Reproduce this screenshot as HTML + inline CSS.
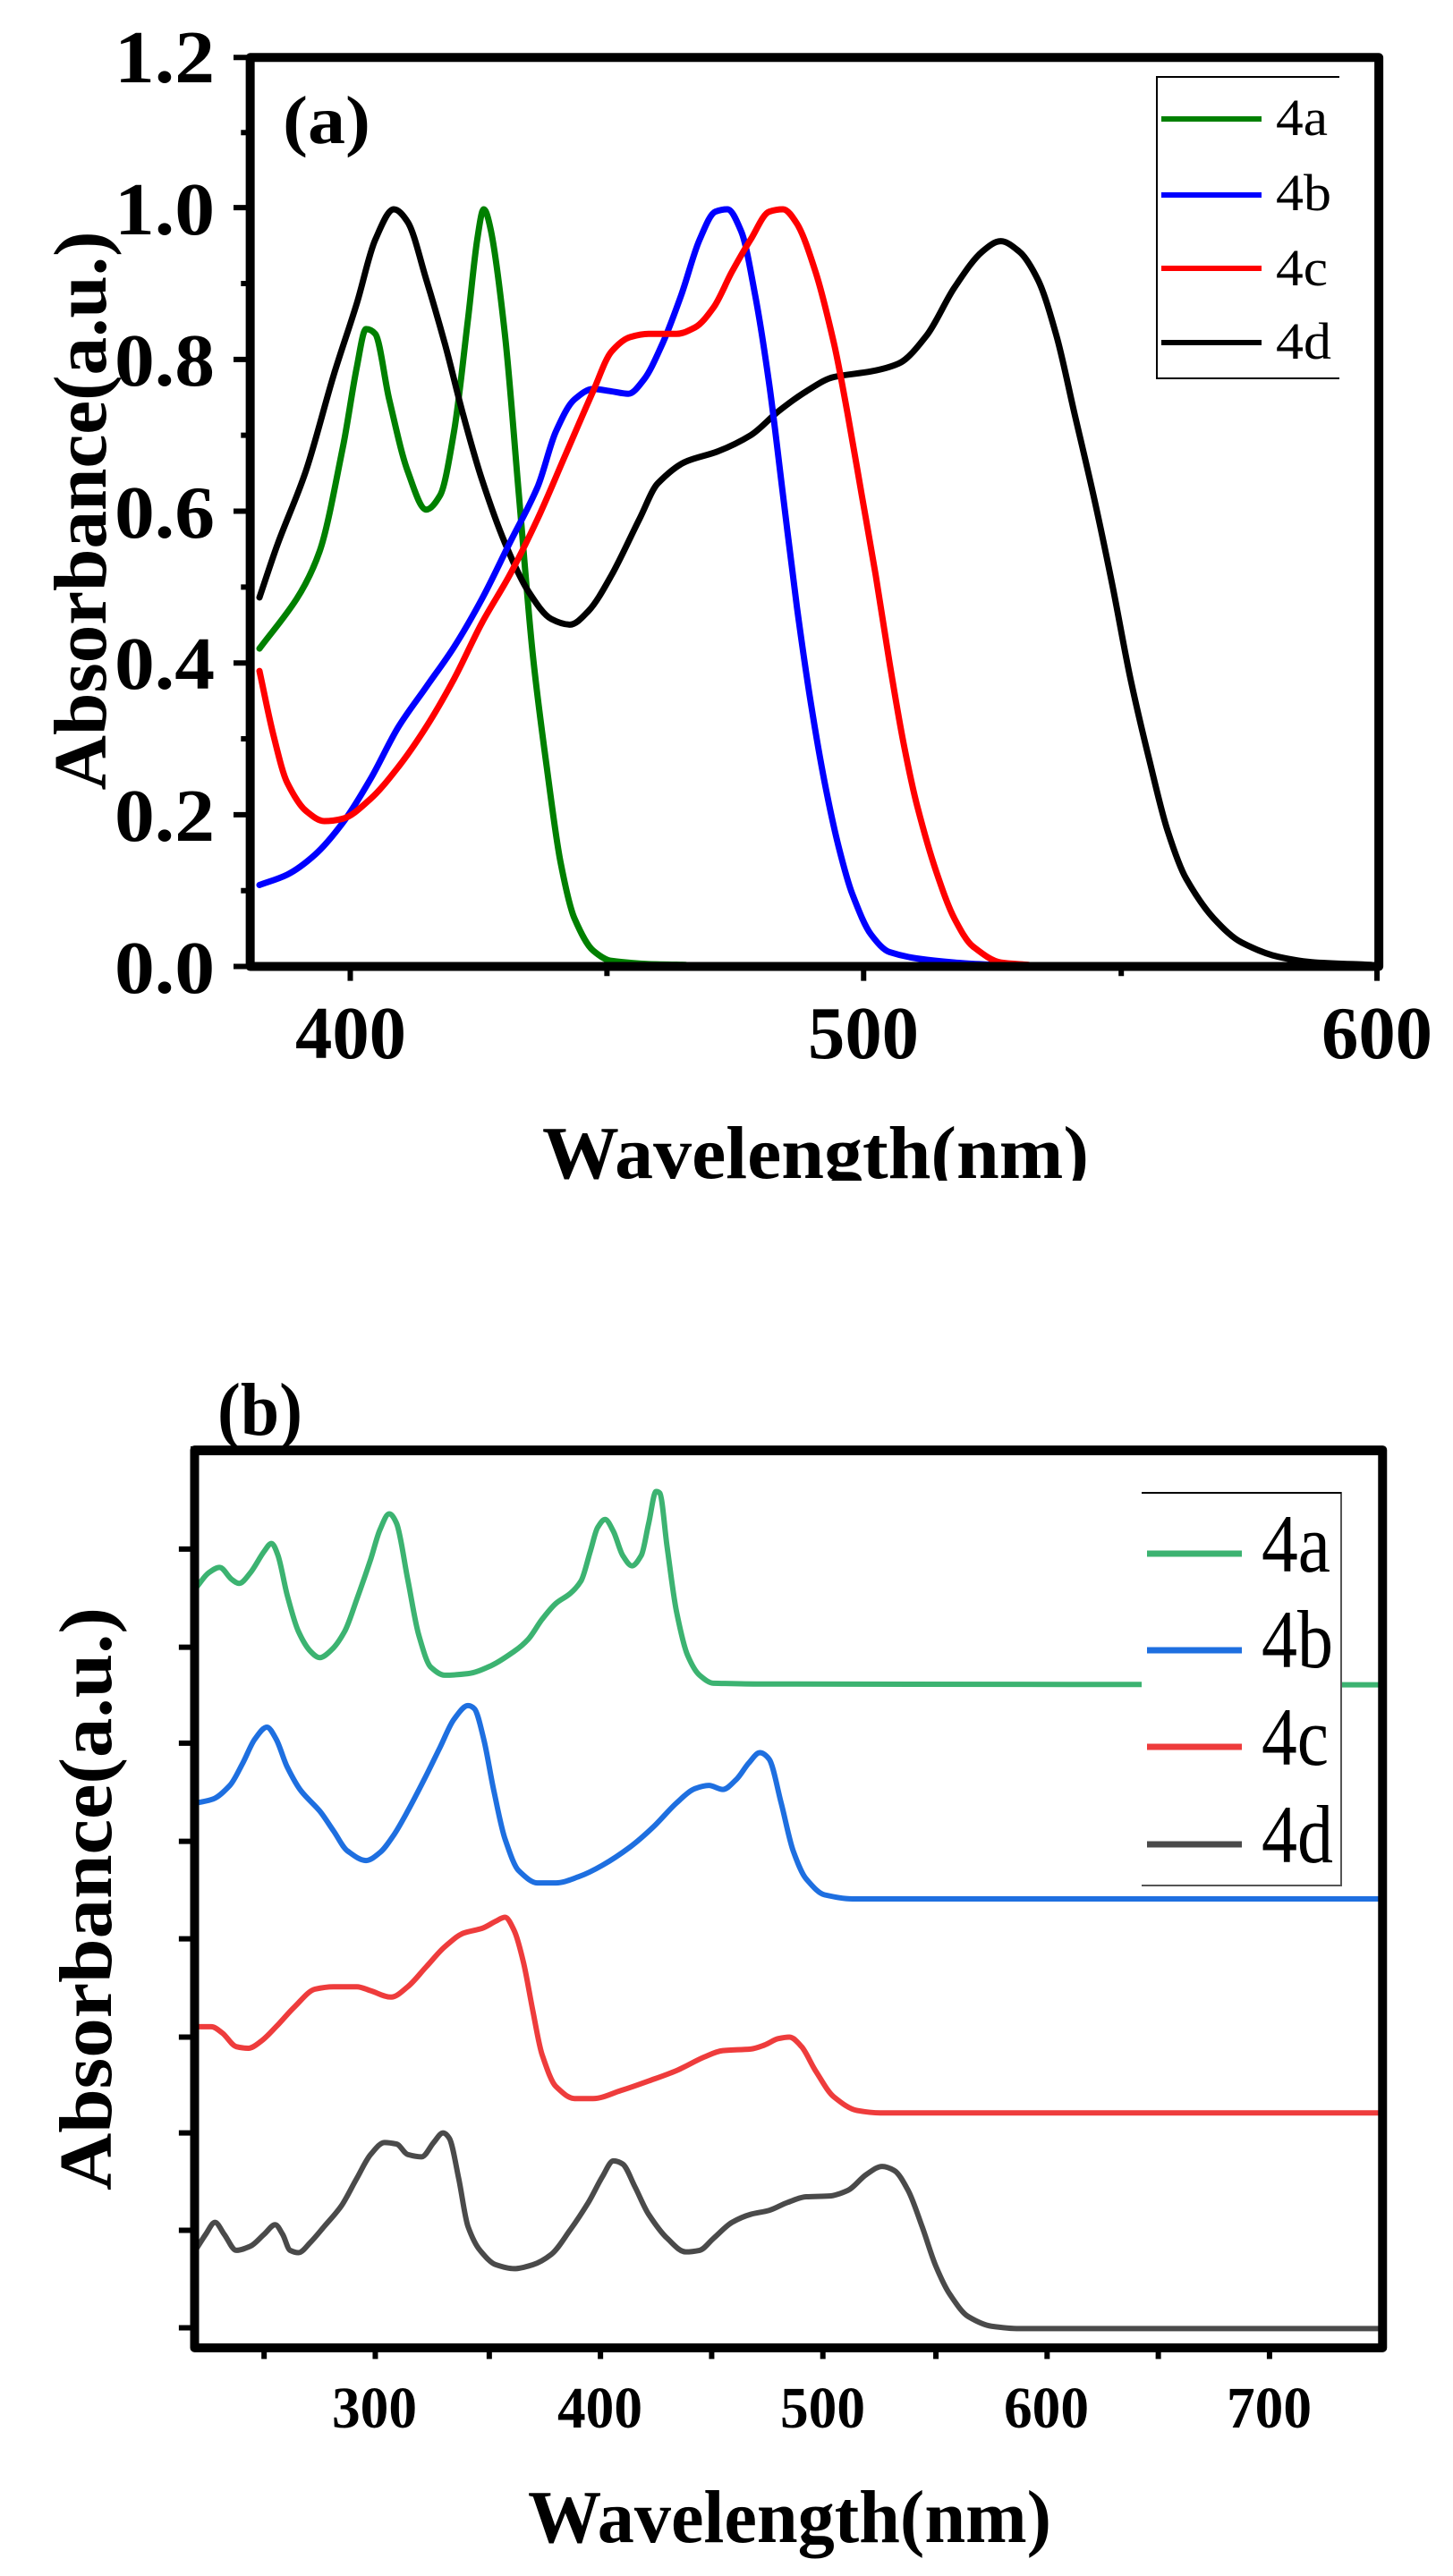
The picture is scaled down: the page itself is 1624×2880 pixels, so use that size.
<!DOCTYPE html>
<html><head><meta charset="utf-8"><style>
html,body{margin:0;padding:0;background:#fff;}
svg{display:block;}
text{font-family:"Liberation Serif","Times New Roman",serif;}
.b{font-weight:bold;}
</style></head><body>
<svg width="1624" height="2880" viewBox="0 0 1624 2880" xmlns="http://www.w3.org/2000/svg" font-family="Liberation Serif, serif">
<rect width="1624" height="2880" fill="#fff"/>
<defs><clipPath id="ca"><rect x="0" y="0" width="1624" height="1320"/></clipPath></defs>

<g transform="scale(1.0357,0.893)" fill="none" stroke-linejoin="round" stroke-linecap="round">
 <polyline class="sm" vector-effect="non-scaling-stroke" stroke="#008000" stroke-width="7" points="280,812 320,750 345,690 370,560 385,460 395,412 405,418 420,500 440,590 460,638 475,620 490,540 505,400 515,300 522,262 530,290 545,420 560,620 575,820 590,960 605,1080 620,1150 640,1190 660,1203 700,1207 740,1208"/>
 <polyline class="sm" vector-effect="non-scaling-stroke" stroke="#000" stroke-width="7" points="280,748 300,680 330,590 360,470 385,380 405,300 425,262 440,278 460,350 480,430 500,520 520,600 545,680 570,740 595,775 615,782 635,765 660,720 690,650 710,605 740,578 775,565 810,545 840,515 870,490 900,472 940,465 970,455 1000,420 1030,360 1060,315 1080,302 1100,315 1120,350 1140,420 1160,520 1180,620 1200,730 1220,850 1240,950 1260,1040 1280,1100 1310,1150 1340,1180 1380,1198 1420,1205 1480,1208"/>
 <polyline class="sm" vector-effect="non-scaling-stroke" stroke="#0000ff" stroke-width="7" points="280,1108 310,1095 340,1070 370,1030 400,975 430,910 460,860 490,810 520,750 550,680 580,610 600,540 620,500 640,487 660,490 678,493 695,475 715,430 735,370 755,300 772,265 785,262 800,290 815,370 830,480 845,620 860,760 875,880 890,980 905,1060 920,1120 940,1170 960,1192 990,1200 1030,1205 1070,1208"/>
 <polyline class="sm" vector-effect="non-scaling-stroke" stroke="#ff0000" stroke-width="7" points="280,840 295,920 310,980 330,1015 350,1028 370,1025 400,1000 430,960 460,910 490,850 520,780 550,720 580,650 610,570 640,490 660,440 680,422 700,418 730,418 750,410 770,385 790,340 810,300 830,265 845,262 860,280 880,340 900,430 915,520 930,620 945,720 960,830 975,930 990,1010 1010,1090 1030,1150 1050,1185 1080,1205 1110,1208"/>
 <g stroke="#000" stroke-linecap="butt">
  <rect vector-effect="non-scaling-stroke" stroke-width="10" x="270" y="72" width="1218" height="1138"/>
  <path vector-effect="non-scaling-stroke" stroke-width="6" d="M252,72H270M252,260H270M252,450H270M252,640H270M252,830H270M252,1020H270M252,1210H270 M260,166H270M260,355H270M260,545H270M260,735H270M260,925H270M260,1115H270 M378,1210V1228M932,1210V1228M1486,1210V1228M655,1210V1222M1210,1210V1222"/>
 </g>
</g>
<path d="M1497,86H1293V423H1497" fill="#fff" stroke="#000" stroke-width="2"/>
<g stroke-width="6">
<line x1="1298" y1="133" x2="1410" y2="133" stroke="#008000"/>
<line x1="1298" y1="218" x2="1410" y2="218" stroke="#0000ff"/>
<line x1="1298" y1="300" x2="1410" y2="300" stroke="#ff0000"/>
<line x1="1298" y1="383" x2="1410" y2="383" stroke="#000"/>
</g>
<g font-size="58">
<text x="1426" y="151" textLength="58" lengthAdjust="spacingAndGlyphs">4a</text>
<text x="1426" y="235" textLength="62" lengthAdjust="spacingAndGlyphs">4b</text>
<text x="1426" y="319" textLength="58" lengthAdjust="spacingAndGlyphs">4c</text>
<text x="1426" y="401" textLength="62" lengthAdjust="spacingAndGlyphs">4d</text>
</g>
<g class="b" font-size="84" text-anchor="end">
<text x="240" y="92" textLength="112" lengthAdjust="spacingAndGlyphs">1.2</text><text x="240" y="262" textLength="112" lengthAdjust="spacingAndGlyphs">1.0</text><text x="240" y="431" textLength="112" lengthAdjust="spacingAndGlyphs">0.8</text><text x="240" y="601" textLength="112" lengthAdjust="spacingAndGlyphs">0.6</text><text x="240" y="770" textLength="112" lengthAdjust="spacingAndGlyphs">0.4</text><text x="240" y="940" textLength="112" lengthAdjust="spacingAndGlyphs">0.2</text><text x="240" y="1110" textLength="112" lengthAdjust="spacingAndGlyphs">0.0</text>
</g>
<g class="b" font-size="84">
<text x="330" y="1183" textLength="124" lengthAdjust="spacingAndGlyphs">400</text><text x="903" y="1183" textLength="124" lengthAdjust="spacingAndGlyphs">500</text><text x="1477" y="1183" textLength="124" lengthAdjust="spacingAndGlyphs">600</text>
</g>
<text class="b" x="316" y="160" font-size="76" textLength="98" lengthAdjust="spacingAndGlyphs">(a)</text>
<text class="b" transform="translate(118,571) rotate(-90)" text-anchor="middle" font-size="84" textLength="625" lengthAdjust="spacingAndGlyphs">Absorbance(a.u.)</text>
<g clip-path="url(#ca)"><text class="b" x="606" y="1317" font-size="84" textLength="611" lengthAdjust="spacingAndGlyphs">Wavelength(nm)</text></g>

<g transform="translate(0,1480) scale(1.0357,0.893)" fill="none" stroke-linejoin="round" stroke-linecap="round">
 <polyline class="sm" vector-effect="non-scaling-stroke" stroke="#3cb371" stroke-width="6" points="212,330 225,312 237,305 250,320 258,325 270,312 285,285 293,275 300,290 310,340 322,385 335,410 345,418 358,408 372,385 385,345 400,295 410,258 420,238 428,250 440,320 452,390 465,430 480,440 505,438 530,428 555,410 570,395 585,370 600,350 615,338 627,322 637,285 645,255 653,245 662,260 672,290 682,303 692,290 700,250 708,210 712,212 720,280 730,360 742,415 755,440 770,450 820,451 1490,452"/>
 <polyline class="sm" vector-effect="non-scaling-stroke" stroke="#1e6fe0" stroke-width="6" points="212,600 230,595 248,578 262,550 275,520 288,505 298,520 310,555 325,585 345,610 360,635 375,660 395,672 410,662 425,640 440,610 458,570 475,530 490,495 505,478 512,482 522,520 533,585 545,645 560,685 580,700 600,700 625,692 650,678 680,655 705,630 730,600 750,582 765,578 780,583 795,570 808,550 820,537 830,545 843,600 856,660 870,695 890,715 920,720 1490,720"/>
 <polyline class="sm" vector-effect="non-scaling-stroke" stroke="#ee3c3c" stroke-width="6" points="212,880 228,880 240,888 255,905 268,907 282,898 298,880 318,855 340,833 360,830 385,830 400,835 422,843 440,830 460,805 480,780 500,763 520,757 535,748 545,743 555,760 565,800 575,860 585,915 600,955 620,970 640,970 670,960 700,948 730,935 760,918 780,910 810,908 825,903 840,895 852,893 865,905 880,935 900,968 925,985 950,988 1490,988"/>
 <polyline class="sm" vector-effect="non-scaling-stroke" stroke="#4a4a4a" stroke-width="6" points="212,1158 222,1140 232,1125 242,1140 255,1160 270,1155 285,1140 297,1128 305,1140 313,1160 322,1163 335,1150 350,1130 368,1105 385,1070 400,1040 415,1025 428,1027 440,1040 455,1043 468,1025 478,1013 485,1020 495,1070 505,1130 518,1160 535,1178 555,1183 575,1178 595,1165 615,1135 635,1100 650,1068 662,1048 672,1052 685,1080 700,1115 720,1145 740,1162 755,1160 770,1145 790,1125 810,1115 830,1110 850,1100 870,1093 895,1092 915,1085 935,1065 952,1055 965,1060 980,1085 995,1130 1010,1180 1025,1215 1045,1243 1070,1255 1100,1258 1490,1258"/>
 <g stroke="#000" stroke-linecap="butt">
  <rect vector-effect="non-scaling-stroke" stroke-width="10" x="210" y="158" width="1282" height="1124"/>
  <path vector-effect="non-scaling-stroke" stroke-width="6" d="M193,282H210M193,405H210M193,525H210M193,648H210M193,770H210M193,893H210M193,1013H210M193,1135H210M193,1257H210 M285,1282V1296M405,1282V1296M528,1282V1296M648,1282V1296M768,1282V1296M888,1282V1296M1010,1282V1296M1130,1282V1296M1250,1282V1296M1370,1282V1296"/>
 </g>
</g>
<path d="M1276,1669H1499V2108H1276" fill="#fff" stroke="#555" stroke-width="2"/>
<line x1="1276" y1="1669" x2="1499" y2="1669" stroke="#000" stroke-width="2"/>
<g stroke-width="7">
<line x1="1282" y1="1737" x2="1388" y2="1737" stroke="#3cb371"/>
<line x1="1282" y1="1845" x2="1388" y2="1845" stroke="#1e6fe0"/>
<line x1="1282" y1="1953" x2="1388" y2="1953" stroke="#ee3c3c"/>
<line x1="1282" y1="2062" x2="1388" y2="2062" stroke="#4a4a4a"/>
</g>
<g font-size="92">
<text x="1410" y="1757" textLength="77" lengthAdjust="spacingAndGlyphs">4a</text>
<text x="1410" y="1864" textLength="80" lengthAdjust="spacingAndGlyphs">4b</text>
<text x="1410" y="1973" textLength="75" lengthAdjust="spacingAndGlyphs">4c</text>
<text x="1410" y="2082" textLength="80" lengthAdjust="spacingAndGlyphs">4d</text>
</g>
<g class="b" font-size="66">
<text x="371" y="2714" textLength="95" lengthAdjust="spacingAndGlyphs">300</text><text x="623" y="2714" textLength="95" lengthAdjust="spacingAndGlyphs">400</text><text x="872" y="2714" textLength="95" lengthAdjust="spacingAndGlyphs">500</text><text x="1122" y="2714" textLength="95" lengthAdjust="spacingAndGlyphs">600</text><text x="1371" y="2714" textLength="95" lengthAdjust="spacingAndGlyphs">700</text>
</g>
<text class="b" x="243" y="1604" font-size="84" textLength="95" lengthAdjust="spacingAndGlyphs">(b)</text>
<rect x="213" y="1617" width="1330" height="10" fill="#000"/>
<text class="b" transform="translate(124,2123) rotate(-90)" text-anchor="middle" font-size="84" textLength="652" lengthAdjust="spacingAndGlyphs">Absorbance(a.u.)</text>
<text class="b" x="590" y="2842" font-size="84" textLength="585" lengthAdjust="spacingAndGlyphs">Wavelength(nm)</text>
</svg>
<script>
document.querySelectorAll('polyline.sm').forEach(function(pl){
  var nums=pl.getAttribute('points').trim().split(/[\s,]+/).map(Number),p=[];
  for(var i=0;i<nums.length;i+=2)p.push([nums[i],nums[i+1]]);
  var n=p.length,m=[];
  for(var i=0;i<n;i++){
    if(i==0)m.push((p[1][1]-p[0][1])/(p[1][0]-p[0][0]));
    else if(i==n-1)m.push((p[i][1]-p[i-1][1])/(p[i][0]-p[i-1][0]));
    else{
      var s0=(p[i][1]-p[i-1][1])/(p[i][0]-p[i-1][0]),s1=(p[i+1][1]-p[i][1])/(p[i+1][0]-p[i][0]);
      if(s0*s1<=0)m.push(0);
      else{var w0=p[i][0]-p[i-1][0],w1=p[i+1][0]-p[i][0];m.push((w0+w1)/(w0/s0+w1/s1));}
    }
  }
  var d='M'+p[0][0]+','+p[0][1];
  for(var i=0;i<n-1;i++){
    var dx=(p[i+1][0]-p[i][0])/3;
    d+='C'+(p[i][0]+dx).toFixed(1)+','+(p[i][1]+m[i]*dx).toFixed(1)+' '+(p[i+1][0]-dx).toFixed(1)+','+(p[i+1][1]-m[i+1]*dx).toFixed(1)+' '+p[i+1][0]+','+p[i+1][1];
  }
  var path=document.createElementNS('http://www.w3.org/2000/svg','path');
  ['stroke','stroke-width','vector-effect'].forEach(function(a){path.setAttribute(a,pl.getAttribute(a));});
  path.setAttribute('d',d);
  pl.parentNode.replaceChild(path,pl);
});
</script>
</body></html>
